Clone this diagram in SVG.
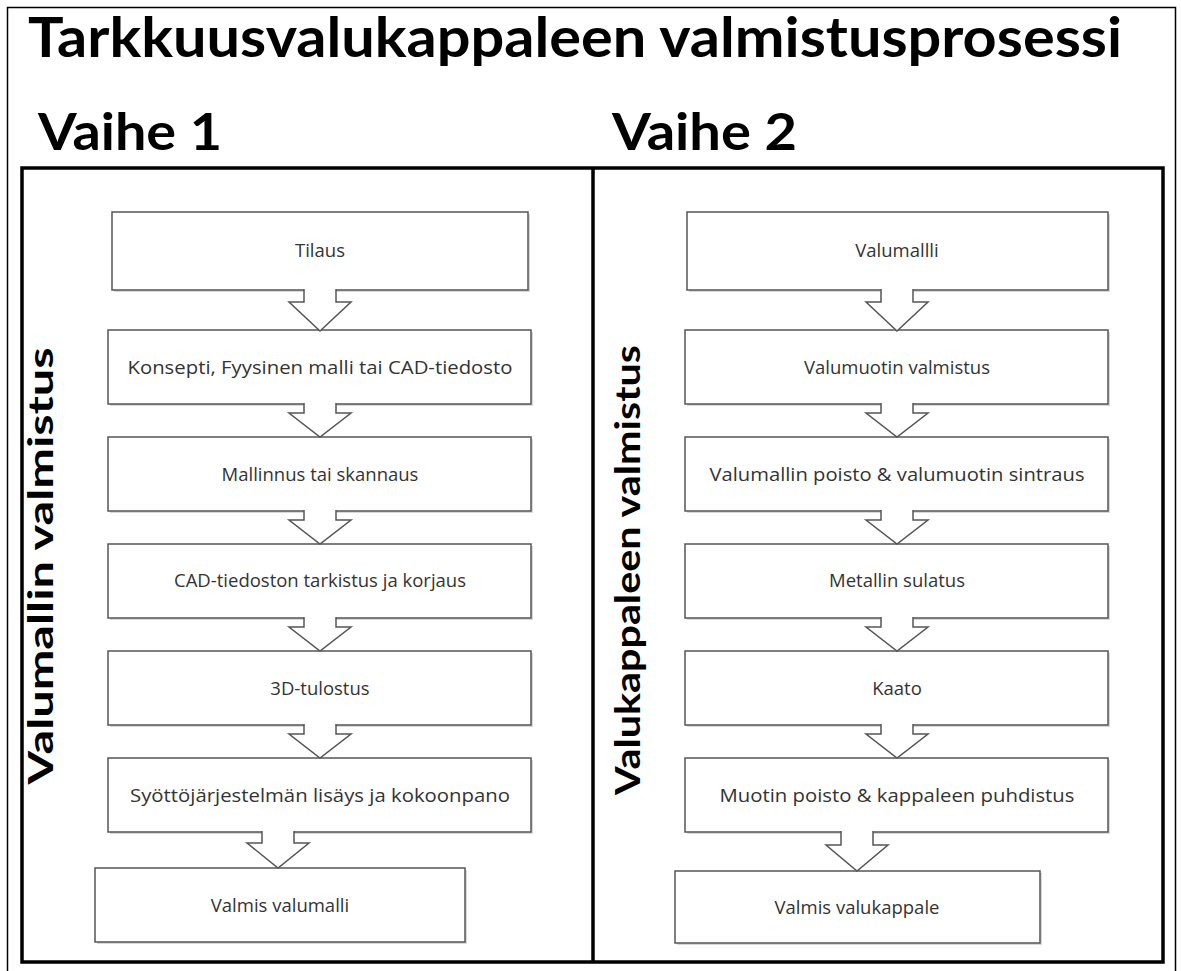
<svg xmlns="http://www.w3.org/2000/svg" width="1181" height="971" viewBox="0 0 1181 971">
<defs>
<style>
.h{font-family:Lato,"Open Sans","Liberation Sans",sans-serif;font-weight:700;fill:#000}
.box{fill:#fff;stroke:#555;stroke-width:1.5}
.sh{fill:#d8d8d8}
.t{font-family:"Open Sans","Liberation Sans",sans-serif;font-size:18.5px;fill:#333;text-anchor:middle}
.ar{fill:#fff;stroke:#555;stroke-width:1.5;stroke-linejoin:miter}
</style>
</defs>
<rect x="0" y="0" width="1181" height="971" fill="#fff"/>
<rect x="7.5" y="7.5" width="1168" height="980" fill="none" stroke="#000" stroke-width="1.5"/>
<text class="h" x="28" y="57" font-size="56" textLength="1094" lengthAdjust="spacingAndGlyphs">Tarkkuusvalukappaleen valmistusprosessi</text>
<text class="h" x="38" y="150" font-size="52" textLength="184" lengthAdjust="spacingAndGlyphs">Vaihe 1</text>
<text class="h" x="612" y="150" font-size="52" textLength="185" lengthAdjust="spacingAndGlyphs">Vaihe 2</text>
<rect x="22" y="168" width="1141" height="794" fill="none" stroke="#000" stroke-width="3.5"/>
<line x1="593" y1="168" x2="593" y2="962" stroke="#000" stroke-width="3.5"/>
<text class="h" font-size="34" text-anchor="middle" transform="translate(53,566) rotate(-90)" textLength="437" lengthAdjust="spacingAndGlyphs">Valumallin valmistus</text>
<text class="h" font-size="34" text-anchor="middle" transform="translate(640,570) rotate(-90)" textLength="450" lengthAdjust="spacingAndGlyphs">Valukappaleen valmistus</text>

<g id="n1"><rect class="sh" x="114" y="214" width="416" height="78"/><rect class="box" x="112" y="212" width="416" height="78"/><text class="t" x="320" y="257">Tilaus</text></g>
<g id="n2"><rect class="sh" x="110" y="332" width="423" height="74"/><rect class="box" x="108" y="330" width="423" height="74"/><text class="t" x="320" y="374" textLength="385" lengthAdjust="spacingAndGlyphs">Konsepti, Fyysinen malli tai CAD-tiedosto</text></g>
<g id="n3"><rect class="sh" x="110" y="439" width="423" height="74"/><rect class="box" x="108" y="437" width="423" height="74"/><text class="t" x="320" y="481">Mallinnus tai skannaus</text></g>
<g id="n4"><rect class="sh" x="110" y="546" width="423" height="74"/><rect class="box" x="108" y="544" width="423" height="74"/><text class="t" x="320" y="587">CAD-tiedoston tarkistus ja korjaus</text></g>
<g id="n5"><rect class="sh" x="110" y="653" width="423" height="74"/><rect class="box" x="108" y="651" width="423" height="74"/><text class="t" x="320" y="695">3D-tulostus</text></g>
<g id="n6"><rect class="sh" x="110" y="760" width="423" height="74"/><rect class="box" x="108" y="758" width="423" height="74"/><text class="t" x="320" y="802" textLength="380" lengthAdjust="spacingAndGlyphs">Syöttöjärjestelmän lisäys ja kokoonpano</text></g>
<g id="n7"><rect class="sh" x="97" y="870" width="370" height="74"/><rect class="box" x="95" y="868" width="370" height="74"/><text class="t" x="280" y="912">Valmis valumalli</text></g>

<g id="m1"><rect class="sh" x="689" y="214" width="421" height="78"/><rect class="box" x="687" y="212" width="421" height="78"/><text class="t" x="897" y="257">Valumallli</text></g>
<g id="m2"><rect class="sh" x="687" y="332" width="423" height="74"/><rect class="box" x="685" y="330" width="423" height="74"/><text class="t" x="897" y="374">Valumuotin valmistus</text></g>
<g id="m3"><rect class="sh" x="687" y="439" width="423" height="74"/><rect class="box" x="685" y="437" width="423" height="74"/><text class="t" x="897" y="481" textLength="375" lengthAdjust="spacingAndGlyphs">Valumallin poisto &amp; valumuotin sintraus</text></g>
<g id="m4"><rect class="sh" x="687" y="546" width="423" height="74"/><rect class="box" x="685" y="544" width="423" height="74"/><text class="t" x="897" y="587">Metallin sulatus</text></g>
<g id="m5"><rect class="sh" x="687" y="653" width="423" height="74"/><rect class="box" x="685" y="651" width="423" height="74"/><text class="t" x="897" y="695">Kaato</text></g>
<g id="m6"><rect class="sh" x="687" y="760" width="423" height="74"/><rect class="box" x="685" y="758" width="423" height="74"/><text class="t" x="897" y="802" textLength="355" lengthAdjust="spacingAndGlyphs">Muotin poisto &amp; kappaleen puhdistus</text></g>
<g id="m7"><rect class="sh" x="677" y="873" width="365" height="72"/><rect class="box" x="675" y="871" width="365" height="72"/><text class="t" x="857" y="914">Valmis valukappale</text></g>

<g id="connectors">
<path class="ar" d="M304,289 V302 H289 L320,331 L351,302 H336 V289"/>
<path class="ar" d="M304,403 V413 H289 L320,437 L351,413 H336 V403"/>
<path class="ar" d="M304,510 V520 H289 L320,544 L351,520 H336 V510"/>
<path class="ar" d="M304,617 V627 H289 L320,651 L351,627 H336 V617"/>
<path class="ar" d="M304,724 V734 H289 L320,758 L351,734 H336 V724"/>
<path class="ar" d="M262,831 V843 H247 L278,868 L309,843 H294 V831"/>
<path class="ar" d="M881,289 V302 H866 L897,331 L928,302 H913 V289"/>
<path class="ar" d="M881,403 V413 H866 L897,437 L928,413 H913 V403"/>
<path class="ar" d="M881,510 V520 H866 L897,544 L928,520 H913 V510"/>
<path class="ar" d="M881,617 V627 H866 L897,651 L928,627 H913 V617"/>
<path class="ar" d="M881,724 V734 H866 L897,758 L928,734 H913 V724"/>
<path class="ar" d="M841,831 V845 H826 L857,871 L888,845 H873 V831"/>
</g>
</svg>
